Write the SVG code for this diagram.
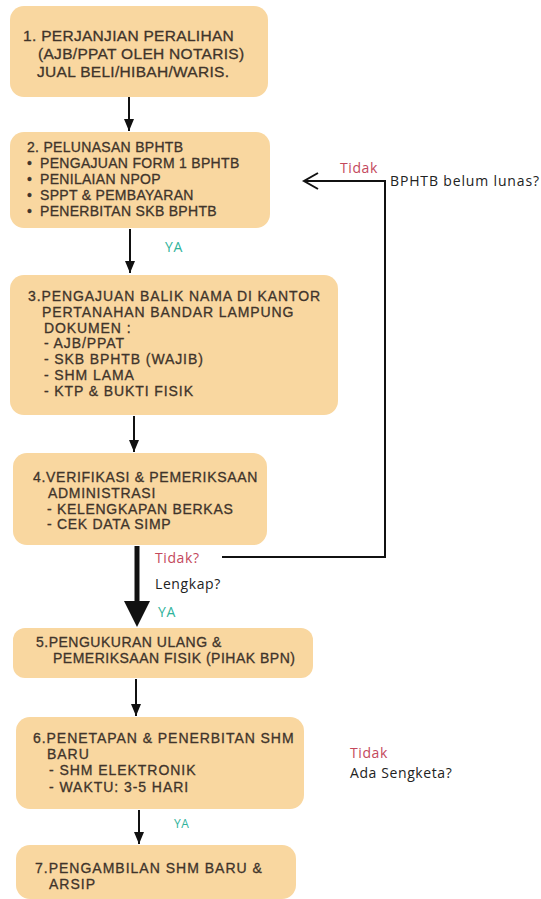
<svg xmlns="http://www.w3.org/2000/svg" width="541" height="899" viewBox="0 0 541 899">
<style>
.box{fill:#f9d7a0;}
.t{font-family:"Liberation Sans","Arimo",Arial,sans-serif;font-size:14px;fill:#40342b;stroke:#40342b;stroke-width:0.3px;}
.lbl{font-family:"Open Sans","Lato","Liberation Sans",sans-serif;font-size:14px;letter-spacing:0.6px;}
.no{fill:#c4485c;}
.ya{fill:#2fb39b;}
.q{fill:#222;}
.ln{stroke:#111;stroke-width:2;fill:none;}
</style>
<defs>
<marker id="ah" markerWidth="12" markerHeight="10" refX="12" refY="5" orient="auto" markerUnits="userSpaceOnUse" viewBox="0 0 12 10">
<path d="M0,0 L12,5 L0,10 Z" fill="#111"/>
</marker>
</defs>
<rect width="541" height="899" fill="#ffffff"/>
<g id="node1">
<rect class="box" x="10" y="6" width="258" height="91" rx="14"/>
<text class="t" style="font-size:15.5px;letter-spacing:0.3px"><tspan x="23" y="41">1. PERJANJIAN PERALIHAN</tspan><tspan x="38" y="59">(AJB/PPAT OLEH NOTARIS)</tspan><tspan x="37" y="77">JUAL BELI/HIBAH/WARIS.</tspan></text>
</g>
<g id="node2">
<rect class="box" x="10" y="132" width="260" height="96" rx="14"/>
<text class="t" style="letter-spacing:0.3px"><tspan x="27" y="152">2. PELUNASAN BPHTB</tspan><tspan x="27" y="168">•</tspan><tspan x="40" y="168">PENGAJUAN FORM 1 BPHTB</tspan><tspan x="27" y="184">•</tspan><tspan x="40" y="184">PENILAIAN NPOP</tspan><tspan x="27" y="200">•</tspan><tspan x="40" y="200">SPPT &amp; PEMBAYARAN</tspan><tspan x="27" y="216">•</tspan><tspan x="40" y="216">PENERBITAN SKB BPHTB</tspan></text>
</g>
<g id="node3">
<rect class="box" x="10" y="275" width="328" height="140" rx="14"/>
<text class="t" style="letter-spacing:0.9px"><tspan x="28" y="301">3.PENGAJUAN BALIK NAMA DI KANTOR</tspan><tspan x="42" y="316.8">PERTANAHAN BANDAR LAMPUNG</tspan><tspan x="44" y="332.6">DOKUMEN :</tspan><tspan x="44" y="348.4">- AJB/PPAT</tspan><tspan x="44" y="364.2">- SKB BPHTB (WAJIB)</tspan><tspan x="44" y="380">- SHM LAMA</tspan><tspan x="44" y="395.8">- KTP &amp; BUKTI FISIK</tspan></text>
</g>
<g id="node4">
<rect class="box" x="13" y="453" width="254" height="92" rx="14"/>
<text class="t" style="letter-spacing:0.7px"><tspan x="33" y="482">4.VERIFIKASI &amp; PEMERIKSAAN</tspan><tspan x="48" y="497.8">ADMINISTRASI</tspan><tspan x="47" y="513.6">- KELENGKAPAN BERKAS</tspan><tspan x="47" y="529.4">- CEK DATA SIMP</tspan></text>
</g>
<g id="node5">
<rect class="box" x="13" y="628" width="300" height="50" rx="12"/>
<text class="t" style="letter-spacing:0.5px"><tspan x="36" y="647">5.PENGUKURAN ULANG &amp;</tspan><tspan x="53" y="663">PEMERIKSAAN FISIK (PIHAK BPN)</tspan></text>
</g>
<g id="node6">
<rect class="box" x="16" y="717" width="288" height="92" rx="14"/>
<text class="t" style="letter-spacing:0.95px"><tspan x="33" y="743">6.PENETAPAN &amp; PENERBITAN SHM</tspan><tspan x="47" y="758.8">BARU</tspan><tspan x="49" y="775">- SHM ELEKTRONIK</tspan><tspan x="49" y="792">- WAKTU: 3-5 HARI</tspan></text>
</g>
<g id="node7">
<rect class="box" x="16" y="845" width="280" height="54" rx="14"/>
<text class="t" style="letter-spacing:1px"><tspan x="35" y="873">7.PENGAMBILAN SHM BARU &amp;</tspan><tspan x="49" y="888.8">ARSIP</tspan></text>
</g>
<g id="connectors">
<line class="ln" x1="129" y1="97" x2="129" y2="131" marker-end="url(#ah)"/>
<line class="ln" x1="130" y1="229" x2="130" y2="273" marker-end="url(#ah)"/>
<line class="ln" x1="134" y1="416" x2="134" y2="452" marker-end="url(#ah)"/>
<line x1="137" y1="546" x2="137" y2="604" stroke="#111" stroke-width="5"/>
<path d="M124,601 L150,601 L137,627 Z" fill="#111"/>
<line class="ln" x1="136" y1="679" x2="136" y2="716" marker-end="url(#ah)"/>
<line class="ln" x1="139" y1="810" x2="139" y2="844" marker-end="url(#ah)"/>
<path class="ln" d="M222,557 L385,557 L385,181 L304,181"/>
<path class="ln" d="M318,173 L304,181 L318,189"/>
</g>
<g id="labels">
<text class="lbl no" x="340" y="173">Tidak</text>
<text class="lbl q" x="390" y="186" style="letter-spacing:0.85px">BPHTB belum lunas?</text>
<text class="lbl ya" x="165" y="252">YA</text>
<text class="lbl no" x="155" y="563">Tidak?</text>
<text class="lbl q" x="155" y="589">Lengkap?</text>
<text class="lbl ya" x="158" y="617">YA</text>
<text class="lbl no" x="350" y="758">Tidak</text>
<text class="lbl q" x="350" y="778">Ada Sengketa?</text>
<text class="lbl ya" x="174" y="828" style="font-size:12px">YA</text>
</g>
</svg>
